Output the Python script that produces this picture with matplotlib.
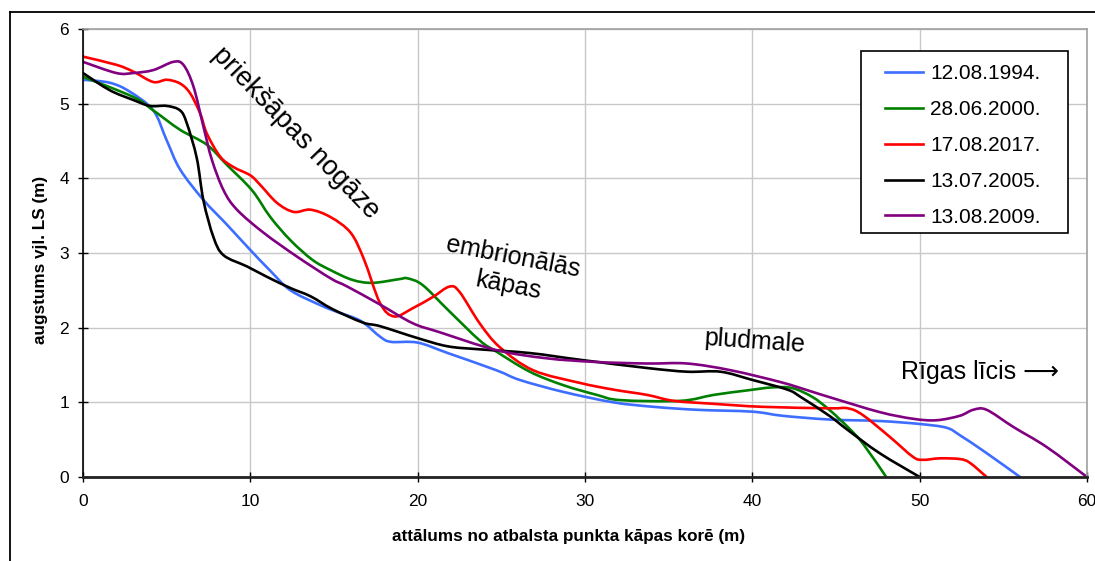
import matplotlib
matplotlib.use("Agg")
import matplotlib.pyplot as plt
from matplotlib.path import Path
from matplotlib.patches import PathPatch, Rectangle
from matplotlib.lines import Line2D

plt.rcParams['font.family'] = ['Liberation Sans', 'DejaVu Sans']

# Profile data: distance from the dune-crest reference point (m) vs. height (m)
labels = ["12.08.1994.", "28.06.2000.", "17.08.2017.", "13.07.2005.", "13.08.2009."]
colors = ["#3D6EFF", "#008000", "#FF0000", "#000000", "#800080"]

x_1994 = [0, 1.6, 2.8, 4.2, 5.0, 5.8, 7.2, 8.6, 10.0, 11.2, 12.4, 14.2, 15.2, 16.6, 17.75,
          18.4, 20.0, 21.8, 24.7, 26.1, 28.7, 31.7, 34.1, 36.7, 40.0, 41.8, 44.6, 47.6,
          50.0, 51.6, 52.4, 54.0, 56.0]
y_1994 = [5.32, 5.28, 5.16, 4.91, 4.51, 4.12, 3.71, 3.38, 3.04, 2.76, 2.50, 2.30, 2.21, 2.09,
          1.88, 1.81, 1.80, 1.66, 1.43, 1.30, 1.14, 1.00, 0.94, 0.90, 0.875, 0.82, 0.77, 0.75,
          0.71, 0.66, 0.56, 0.32, 0.0]

x_2000 = [0, 3.0, 4.2, 5.8, 7.4, 8.6, 10.1, 11.2, 12.4, 13.7, 14.8, 16.1, 17.3, 18.9, 19.4,
          20.3, 21.8, 23.7, 24.7, 26.7, 28.7, 30.7, 32.1, 35.7, 37.7, 39.7, 41.2, 42.4, 43.6,
          44.6, 45.7, 46.6, 48.0]
y_2000 = [5.36, 5.09, 4.91, 4.65, 4.45, 4.18, 3.84, 3.48, 3.17, 2.91, 2.77, 2.64, 2.60, 2.65,
          2.66, 2.57, 2.24, 1.83, 1.68, 1.41, 1.23, 1.10, 1.03, 1.02, 1.10, 1.16, 1.20, 1.19,
          1.07, 0.90, 0.67, 0.45, 0.0]

x_2017 = [0, 2.0, 3.0, 4.2, 5.0, 5.8, 6.4, 7.0, 7.4, 8.2, 9.0, 10.0, 10.6, 11.6, 12.6, 13.6,
          14.8, 16.0, 16.8, 17.75, 18.6, 19.7, 20.9, 21.9, 22.5, 23.7, 24.9, 26.9, 29.7,
          31.7, 33.7, 35.3, 37.7, 40.6, 44.6, 45.7, 46.6, 48.2, 49.6, 50.2, 51.2, 52.4, 53.0,
          54.0]
y_2017 = [5.63, 5.52, 5.43, 5.29, 5.32, 5.27, 5.14, 4.87, 4.60, 4.29, 4.15, 4.04, 3.91, 3.67,
          3.55, 3.58, 3.48, 3.27, 2.91, 2.33, 2.15, 2.26, 2.41, 2.55, 2.48, 2.06, 1.74, 1.43,
          1.26, 1.17, 1.10, 1.02, 0.98, 0.94, 0.92, 0.92, 0.83, 0.54, 0.27, 0.23, 0.25, 0.24,
          0.19, 0.0]

x_2005 = [0, 1.6, 3.0, 4.0, 5.0, 5.8, 6.2, 6.8, 7.2, 7.8, 8.4, 9.8, 11.0, 12.4, 13.6, 14.9,
          16.7, 17.75, 20.0, 21.8, 23.7, 26.7, 29.7, 33.7, 36.1, 38.1, 40.0, 42.1, 42.9, 44.6,
          45.7, 47.6, 50.0]
y_2005 = [5.41, 5.18, 5.05, 4.97, 4.97, 4.91, 4.74, 4.27, 3.70, 3.21, 2.97, 2.82, 2.68, 2.53,
          2.42, 2.25, 2.07, 2.02, 1.86, 1.75, 1.71, 1.66, 1.57, 1.46, 1.41, 1.41, 1.30, 1.17,
          1.07, 0.82, 0.63, 0.32, 0.0]

x_2009 = [0, 2.0, 3.0, 4.2, 5.4, 6.0, 6.6, 7.2, 7.7, 8.4, 9.2, 10.8, 12.8, 14.8, 15.8, 17.75,
          19.7, 21.3, 24.7, 27.7, 30.7, 33.7, 36.1, 38.7, 41.7, 43.6, 44.6, 47.6, 49.6, 51.0,
          52.4, 53.2, 54.0, 55.6, 57.6, 60.0]
y_2009 = [5.56, 5.41, 5.41, 5.45, 5.56, 5.52, 5.23, 4.69, 4.25, 3.84, 3.58, 3.27, 2.95, 2.66,
          2.55, 2.31, 2.06, 1.94, 1.70, 1.59, 1.54, 1.52, 1.52, 1.43, 1.27, 1.14, 1.07, 0.87,
          0.78, 0.76, 0.82, 0.90, 0.90, 0.67, 0.40, 0.0]

series_x = [x_1994, x_2000, x_2017, x_2005, x_2009]
series_y = [y_1994, y_2000, y_2017, y_2005, y_2009]

x_ticks = [0, 10, 20, 30, 40, 50, 60]
y_ticks = [0, 1, 2, 3, 4, 5, 6]


def smooth_path(xs, ys):
    """Catmull-Rom style cubic Bezier through the measured points."""
    pts = list(zip(xs, ys))
    verts = [pts[0]]
    codes = [Path.MOVETO]
    n = len(pts)
    for i in range(n - 1):
        p0 = pts[i - 1] if i > 0 else pts[i]
        p1 = pts[i]
        p2 = pts[i + 1]
        p3 = pts[i + 2] if i + 2 < n else pts[i + 1]
        c1 = (p1[0] + (p2[0] - p0[0]) / 6.0, p1[1] + (p2[1] - p0[1]) / 6.0)
        c2 = (p2[0] - (p3[0] - p1[0]) / 6.0, p2[1] - (p3[1] - p1[1]) / 6.0)
        verts += [c1, c2, p2]
        codes += [Path.CURVE4] * 3
    return Path(verts, codes)


W, H = 1095, 561
fig = plt.figure(figsize=(W / 100, H / 100), dpi=100)
ax = fig.add_axes([83 / W, 1 - 477 / H, (1087 - 83) / W, (477 - 29) / H])

lw = 1.9
handles = []
for xs, ys, c, lab in zip(series_x, series_y, colors, labels):
    patch = PathPatch(smooth_path(xs, ys), facecolor="none", edgecolor=c, lw=lw,
                      capstyle="round", joinstyle="round", zorder=3)
    ax.add_patch(patch)
    handles.append(Line2D([], [], color=c, lw=lw, label=lab))

ax.set_xlim(0, 60)
ax.set_ylim(0, 6)
ax.set_xticks(x_ticks)
ax.set_yticks(y_ticks)
ax.grid(True, color="#c8c8c8", lw=1.0, zorder=0)
ax.set_axisbelow(True)

for side in ("top", "right"):
    ax.spines[side].set_color("#a0a0a0")
    ax.spines[side].set_linewidth(1.2)
ax.spines["left"].set_color("black")
ax.spines["left"].set_linewidth(1.2)
ax.spines["bottom"].set_color("#222222")
ax.spines["bottom"].set_linewidth(2.0)
for sp in ax.spines.values():
    sp.set_zorder(4)

ax.tick_params(axis="both", direction="inout", length=7, width=1.0, labelsize=12.5,
               colors="black")
ax.tick_params(axis="x", pad=8.5)
ax.tick_params(axis="y", pad=6.5)

ax.set_xlabel("attālums no atbalsta punkta kāpas korē (m)", fontsize=12.3, fontweight="bold")
ax.set_ylabel("augstums vjl. LS (m)", fontsize=12.3, fontweight="bold")
ax.xaxis.set_label_coords((569 - 83) / 1004, (477 - 529) / 448)
ax.yaxis.set_label_coords((48 - 83) / 1004, 0.485)

# Zone annotations
tfam = ["Liberation Sans", "DejaVu Sans"]
ax.text(12.7, 4.6, "priekšāpas nogāze", fontsize=19.5, rotation=-46, ha="center",
        va="center", rotation_mode="anchor", family=tfam)
ax.text(25.7, 2.95, "embrionālās", fontsize=18, rotation=-11, ha="center", va="center",
        rotation_mode="anchor", family=tfam)
ax.text(25.4, 2.56, "kāpas", fontsize=18, rotation=-11, ha="center", va="center",
        rotation_mode="anchor", family=tfam)
ax.text(40.15, 1.82, "pludmale", fontsize=18, rotation=-4, ha="center", va="center",
        rotation_mode="anchor", family=tfam)
ax.text(53.6, 1.41, "Rīgas līcis ⟶", fontsize=18, ha="center", va="center", family=tfam)

# Legend box drawn as its own frame, entries placed inside it
box = Rectangle((861 / W, 1 - 233 / H), (1068 - 861) / W, (233 - 51) / H,
                transform=fig.transFigure, facecolor="white", edgecolor="black",
                lw=1.2, zorder=5)
fig.add_artist(box)
leg = fig.legend(handles=handles, loc="upper left",
                 bbox_to_anchor=(885 / W, 1 - 64.2 / H), bbox_transform=fig.transFigure,
                 borderaxespad=0, borderpad=0, fontsize=15, frameon=False,
                 handlelength=1.83, handletextpad=0.34, labelspacing=0.81)
leg.set_zorder(6)

# Outer chart frame (top and left edges)
fig.add_artist(Line2D([10 / W, 1.0], [1 - 12 / H, 1 - 12 / H], transform=fig.transFigure,
                      color="black", lw=1.3))
fig.add_artist(Line2D([10 / W, 10 / W], [0.0, 1 - 12 / H], transform=fig.transFigure,
                      color="black", lw=1.3))

fig.savefig("out.png", dpi=100)
